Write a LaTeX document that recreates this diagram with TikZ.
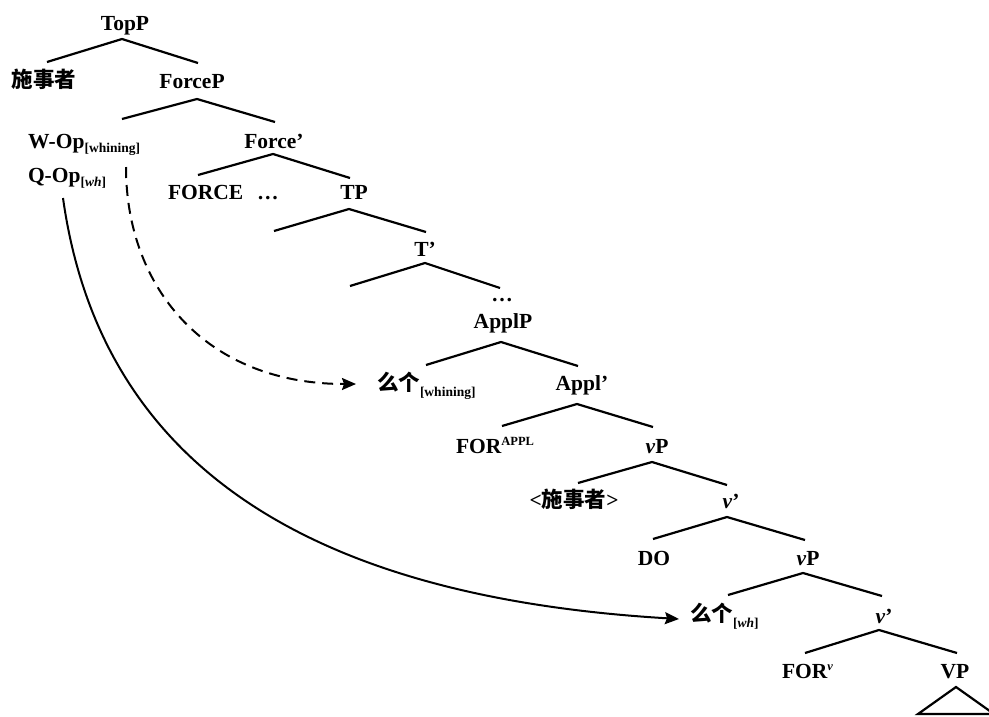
\documentclass[tikz,border=0pt]{standalone}
\usepackage{fontspec}
\setmainfont{Liberation Serif}
\newfontfamily\cjkfont{Noto Sans CJK SC}
\usetikzlibrary{arrows.meta}
\newcommand{\subtxt}[1]{\raisebox{-4.5pt}{\fontsize{13.5}{14}\selectfont #1}}
\newcommand{\suptxt}[1]{\raisebox{8pt}{\fontsize{12.5}{13}\selectfont #1}}
\begin{document}
\begin{tikzpicture}[x=1pt,y=-1pt,
  lbl/.style={inner sep=0pt, outer sep=0pt, anchor=base, font=\fontsize{21.5}{24}\selectfont\bfseries},
  lblw/.style={lbl, anchor=base west},
  br/.style={line width=2.2pt, line cap=butt},
  movearrow/.style={line width=2pt, -{Stealth[length=14pt,width=12pt,inset=2pt]}},
  movedash/.style={movearrow, dash pattern=on 11pt off 7pt}
]
\useasboundingbox (0,0) rectangle (989,716);

% labels
\node[lbl] (topp) at (125,30) {TopP};
\node[lbl] (agent) at (44,87) {\cjkfont 施事者};
\node[lbl] (forcep) at (192,88) {ForceP};
\node[lblw] (wop) at (28,148) {W-Op\subtxt{[whining]}};
\node[lbl] (forcebar) at (274,148) {Force’};
\node[lblw] (qop) at (28,182) {Q-Op\subtxt{[\textit{wh}]}};
\node[lblw] (force) at (168,199) {FORCE\hspace{14pt}\dots};
\node[lbl] (tp) at (354,199) {TP};
\node[lbl] (tbar) at (425,256) {T’};
\node[lbl] (dots) at (502,301) {\dots};
\node[lbl] (applp) at (503,328) {ApplP};
\node[lblw] (mg1) at (377,390) {{\cjkfont 么个}\raisebox{-2pt}{\subtxt{[whining]}}};
\node[lbl] (applbar) at (582,390) {Appl’};
\node[lblw] (forappl) at (456,453) {FOR\suptxt{APPL}};
\node[lbl] (vp1) at (657,453) {\textit{v}P};
\node[lbl] (agent2) at (574,507) {<{\cjkfont 施事者}>};
\node[lbl] (vbar1) at (731,508) {\textit{v}’};
\node[lbl] (do) at (654,565) {DO};
\node[lbl] (vp2) at (808,565) {\textit{v}P};
\node[lblw] (mg2) at (690,621) {{\cjkfont 么个}\raisebox{-2pt}{\subtxt{[\textit{wh}]}}};
\node[lbl] (vbar2) at (884,623) {\textit{v}’};
\node[lblw] (forv) at (782,678) {FOR\suptxt{\textit{v}}};
\node[lbl] (vpbig) at (955,678) {VP};

% branch coordinates
\coordinate (top-a) at (122,39);   \coordinate (top-l) at (47,62);   \coordinate (top-r) at (198,63);
\coordinate (frc-a) at (197,99);   \coordinate (frc-l) at (122,119); \coordinate (frc-r) at (275,122);
\coordinate (fbr-a) at (273,154);  \coordinate (fbr-l) at (198,175); \coordinate (fbr-r) at (350,178);
\coordinate (tp-a) at (349,209);   \coordinate (tp-l) at (274,231);  \coordinate (tp-r) at (426,232);
\coordinate (tbr-a) at (425,263);  \coordinate (tbr-l) at (350,286); \coordinate (tbr-r) at (500,288);
\coordinate (apl-a) at (501,342);  \coordinate (apl-l) at (426,365); \coordinate (apl-r) at (578,366);
\coordinate (abr-a) at (577,404);  \coordinate (abr-l) at (502,426); \coordinate (abr-r) at (653,427);
\coordinate (vpa-a) at (652,462);  \coordinate (vpa-l) at (578,483); \coordinate (vpa-r) at (727,485);
\coordinate (vba-a) at (727,517);  \coordinate (vba-l) at (653,539); \coordinate (vba-r) at (805,540);
\coordinate (vpb-a) at (803,573);  \coordinate (vpb-l) at (728,595); \coordinate (vpb-r) at (882,596);
\coordinate (vbb-a) at (879,630);  \coordinate (vbb-l) at (805,653); \coordinate (vbb-r) at (957,653);
\coordinate (tri-a) at (956,687);  \coordinate (tri-l) at (918,714); \coordinate (tri-r) at (994,714);

\foreach \n in {top,frc,fbr,tp,tbr,apl,abr,vpa,vba,vpb,vbb}
  \draw[br] (\n-l) -- (\n-a) -- (\n-r);
\draw[br] (tri-l) -- (tri-a) -- (tri-r) -- cycle;

% movement arrows
\coordinate (qs) at (63,198);
\coordinate (qe) at (679,619);
\coordinate (ws) at (126,167);
\coordinate (we) at (356,384);
\draw[movearrow] (qs) .. controls (105,498) and (360,600) .. (qe);
\draw[movedash] (ws) .. controls (126,287) and (205,384) .. (we);
\end{tikzpicture}
\end{document}
